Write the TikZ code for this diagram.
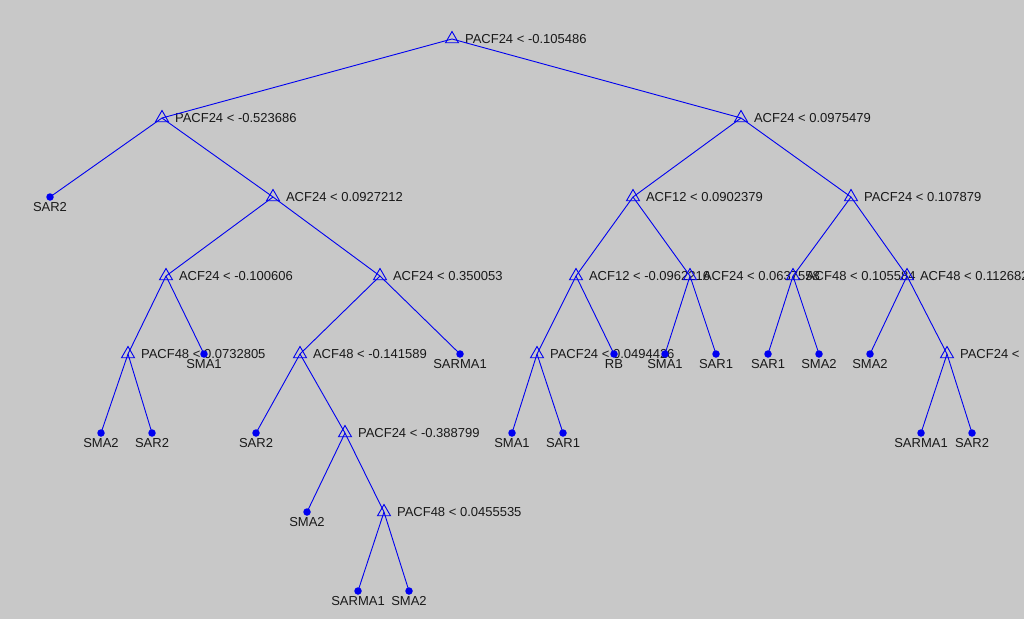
\documentclass[tikz,border=0pt]{standalone}
\usepackage{fontspec}
\setmainfont{Liberation Sans}
\usetikzlibrary{shapes.geometric}
\definecolor{canvas}{RGB}{200,200,200}
\definecolor{treeblue}{RGB}{0,0,240}
\tikzset{
	split/.style={regular polygon, regular polygon sides=3, draw=treeblue, inner sep=0pt, minimum size=15pt, line width=0.9pt},
	leaf/.style={circle, fill=treeblue, inner sep=0pt, minimum size=7.5pt},
	edge/.style={treeblue, line width=0.9pt},
	rule/.style={label={[text=black!90, inner sep=1pt, label distance=7pt, font=\fontsize{13}{15}\selectfont]right:#1}},
	cls/.style={label={[text=black!90, inner sep=1pt, label distance=0pt, font=\fontsize{13}{15}\selectfont]below:#1}}
}
\begin{document}
\begin{tikzpicture}[x=1pt, y=-1pt]
		\fill[canvas] (0,0) rectangle (1024,619);
		\useasboundingbox (0,0) rectangle (1024,619);
		% split nodes
		\node[split, rule={PACF24 < -0.105486}] (root) at (452,39) {};
		\node[split, rule={PACF24 < -0.523686}] (nL) at (162,118) {};
		\node[split, rule={ACF24 < 0.0975479}] (nR) at (741,118) {};
		\node[split, rule={ACF24 < 0.0927212}] (nLR) at (273,197) {};
		\node[split, rule={ACF12 < 0.0902379}] (nRL) at (633,197) {};
		\node[split, rule={PACF24 < 0.107879}] (nRR) at (851,197) {};
		\node[split, rule={ACF24 < -0.100606}] (nLRL) at (166,276) {};
		\node[split, rule={ACF24 < 0.350053}] (nLRR) at (380,276) {};
		\node[split, rule={ACF12 < -0.0962216}] (nRLL) at (576,276) {};
		\node[split, rule={ACF24 < 0.0637558}] (nRLR) at (690,276) {};
		\node[split, rule={ACF48 < 0.105584}] (nRRL) at (793,276) {};
		\node[split, rule={ACF48 < 0.112682}] (nRRR) at (907,276) {};
		\node[split, rule={PACF48 < 0.0732805}] (nLRLL) at (128,354) {};
		\node[split, rule={ACF48 < -0.141589}] (nLRRL) at (300,354) {};
		\node[split, rule={PACF24 < 0.0494426}] (nRLLL) at (537,354) {};
		\node[split, rule={PACF24 <}] (nRRRR) at (947,354) {};
		\node[split, rule={PACF24 < -0.388799}] (nLRRLR) at (345,433) {};
		\node[split, rule={PACF48 < 0.0455535}] (nLRRLRR) at (384,512) {};
		% leaves
		\node[leaf, cls=SAR2] (c1) at (50,197) {};
		\node[leaf, cls=SMA1] (c2) at (204,354) {};
		\node[leaf, cls=SARMA1] (c3) at (460,354) {};
		\node[leaf, cls=RB] (c4) at (614,354) {};
		\node[leaf, cls=SMA1] (c5) at (665,354) {};
		\node[leaf, cls=SAR1] (c6) at (716,354) {};
		\node[leaf, cls=SAR1] (c7) at (768,354) {};
		\node[leaf, cls=SMA2] (c8) at (819,354) {};
		\node[leaf, cls=SMA2] (c9) at (870,354) {};
		\node[leaf, cls=SMA2] (c10) at (101,433) {};
		\node[leaf, cls=SAR2] (c11) at (152,433) {};
		\node[leaf, cls=SAR2] (c12) at (256,433) {};
		\node[leaf, cls=SMA1] (c13) at (512,433) {};
		\node[leaf, cls=SAR1] (c14) at (563,433) {};
		\node[leaf, cls=SARMA1] (c15) at (921,433) {};
		\node[leaf, cls=SAR2] (c16) at (972,433) {};
		\node[leaf, cls=SMA2] (c17) at (307,512) {};
		\node[leaf, cls=SARMA1] (c18) at (358,591) {};
		\node[leaf, cls=SMA2] (c19) at (409,591) {};
		% edges
		\foreach \a/\b in {root/nL, root/nR, nL/c1, nL/nLR, nR/nRL, nR/nRR,
			nLR/nLRL, nLR/nLRR, nRL/nRLL, nRL/nRLR, nRR/nRRL, nRR/nRRR,
			nLRL/nLRLL, nLRL/c2, nLRR/nLRRL, nLRR/c3, nRLL/nRLLL, nRLL/c4,
			nRLR/c5, nRLR/c6, nRRL/c7, nRRL/c8, nRRR/c9, nRRR/nRRRR,
			nLRLL/c10, nLRLL/c11, nLRRL/c12, nLRRL/nLRRLR, nRLLL/c13, nRLLL/c14,
			nRRRR/c15, nRRRR/c16, nLRRLR/c17, nLRRLR/nLRRLRR, nLRRLRR/c18, nLRRLRR/c19}
			\draw[edge] (\a.center) -- (\b.center);
	\end{tikzpicture}
\end{document}
